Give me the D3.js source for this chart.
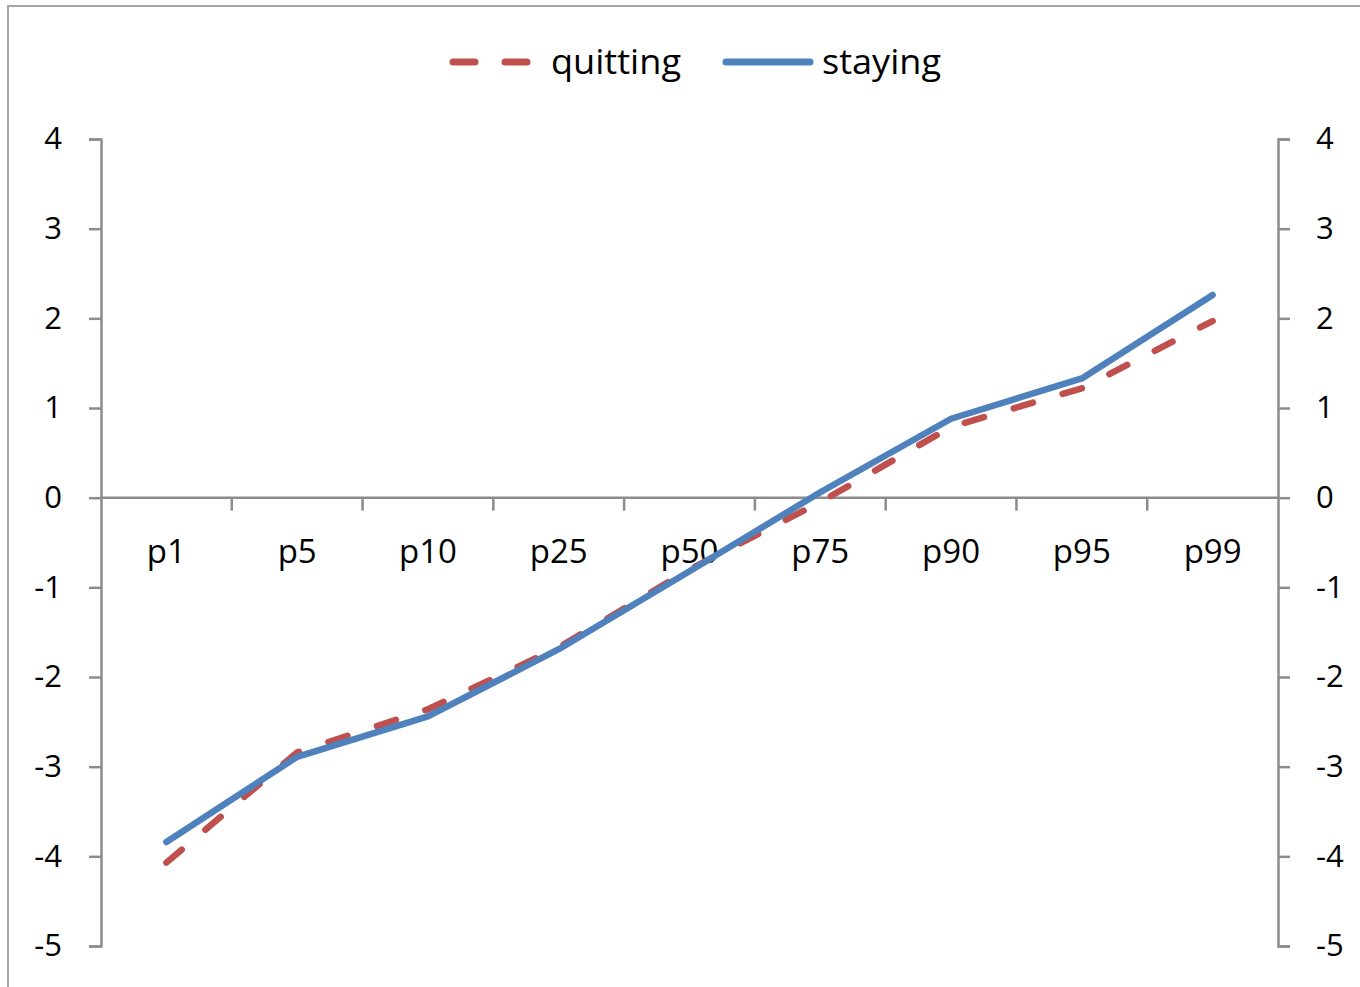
<!DOCTYPE html>
<html>
<head>
<meta charset="utf-8">
<script src="https://cdn.jsdelivr.net/npm/d3@7"></script>
<style>
  html, body { margin: 0; padding: 0; background: #fff; }
  svg text { font-family: "Open Sans", "Noto Sans", sans-serif; fill: #000; }
</style>
</head>
<body>
<svg id="chart" width="1360" height="987"></svg>
<script>
// Percentile categories along the x axis
const categories = ["p1", "p5", "p10", "p25", "p50", "p75", "p90", "p95", "p99"];
// Series values per percentile
const quitting = [-4.07, -2.84, -2.36, -1.67, -0.80, -0.05, 0.79, 1.22, 1.97];
const staying  = [-3.84, -2.89, -2.44, -1.69, -0.82, 0.06, 0.88, 1.33, 2.26];
// Y-axis ticks (both sides)
const yTicks = [4, 3, 2, 1, 0, -1, -2, -3, -4, -5];

(function () {
  const svg = d3.select("#chart");
  const W = 1360, H = 987;
  const plotLeft = 101, plotRight = 1278, plotTop = 139, plotBottom = 946;
  const axisColor = "#8c8c8c";
  const red = "#C0504D", blue = "#4F81BD";
  const fmt = d => String(d); // plain hyphen-minus

  // outer chart frame
  svg.append("rect")
    .attr("x", 8).attr("y", 6)
    .attr("width", W).attr("height", H)
    .attr("fill", "#fff")
    .attr("stroke", "#a6a6a6").attr("stroke-width", 2);

  const x = d3.scaleBand().domain(categories).range([plotLeft, plotRight]);
  const y = d3.scaleLinear().domain([-5, 4]).range([plotBottom, plotTop]);

  // left value axis
  const gL = svg.append("g").attr("transform", `translate(${plotLeft},0)`)
    .call(d3.axisLeft(y).tickValues(yTicks).tickFormat(fmt).tickSize(12).tickPadding(27));
  // right value axis
  const gR = svg.append("g").attr("transform", `translate(${plotRight},0)`)
    .call(d3.axisRight(y).tickValues(yTicks).tickFormat(fmt).tickSize(12).tickPadding(26));

  [gL, gR].forEach(g => {
    g.select(".domain").attr("stroke", axisColor).attr("stroke-width", 2.5);
    g.selectAll(".tick line").attr("stroke", axisColor).attr("stroke-width", 2.5);
    g.selectAll(".tick text").attr("font-size", 31).attr("fill", "#000")
      .attr("font-family", "'Open Sans', 'Noto Sans', sans-serif");
  });

  // category axis crossing at zero
  const y0 = y(0);
  svg.append("line")
    .attr("x1", plotLeft).attr("x2", plotRight).attr("y1", y0).attr("y2", y0)
    .attr("stroke", axisColor).attr("stroke-width", 2.5);
  const boundaries = categories.slice(1).map(c => x(c));
  svg.selectAll("line.xtick").data(boundaries).join("line")
    .attr("class", "xtick")
    .attr("x1", d => d).attr("x2", d => d)
    .attr("y1", y0).attr("y2", y0 + 13)
    .attr("stroke", axisColor).attr("stroke-width", 2.5);
  svg.selectAll("text.xlab").data(categories).join("text")
    .attr("class", "xlab")
    .attr("x", d => x(d) + x.bandwidth() / 2)
    .attr("y", y0 + 65)
    .attr("text-anchor", "middle")
    .attr("font-size", 33)
    .text(d => d);

  // series lines
  const line = d3.line()
    .x((d, i) => x(categories[i]) + x.bandwidth() / 2)
    .y(d => y(d));

  svg.append("path").datum(quitting)
    .attr("d", line)
    .attr("fill", "none")
    .attr("stroke", red).attr("stroke-width", 6.5)
    .attr("stroke-linecap", "round")
    .attr("stroke-dasharray", "20,31");

  svg.append("path").datum(staying)
    .attr("d", line)
    .attr("fill", "none")
    .attr("stroke", blue).attr("stroke-width", 6.5)
    .attr("stroke-linecap", "round")
    .attr("stroke-linejoin", "round");

  // legend
  const lg = svg.append("g");
  lg.append("line").attr("x1", 453).attr("x2", 475).attr("y1", 62).attr("y2", 62)
    .attr("stroke", red).attr("stroke-width", 7).attr("stroke-linecap", "round");
  lg.append("line").attr("x1", 505).attr("x2", 527).attr("y1", 62).attr("y2", 62)
    .attr("stroke", red).attr("stroke-width", 7).attr("stroke-linecap", "round");
  lg.append("text").attr("x", 551).attr("y", 74).attr("font-size", 34)
    .attr("textLength", 130).attr("lengthAdjust", "spacingAndGlyphs").text("quitting");
  lg.append("line").attr("x1", 726).attr("x2", 810).attr("y1", 62).attr("y2", 62)
    .attr("stroke", blue).attr("stroke-width", 7).attr("stroke-linecap", "round");
  lg.append("text").attr("x", 822).attr("y", 74).attr("font-size", 34)
    .attr("textLength", 119).attr("lengthAdjust", "spacingAndGlyphs").text("staying");
})();
</script>
</body>
</html>
